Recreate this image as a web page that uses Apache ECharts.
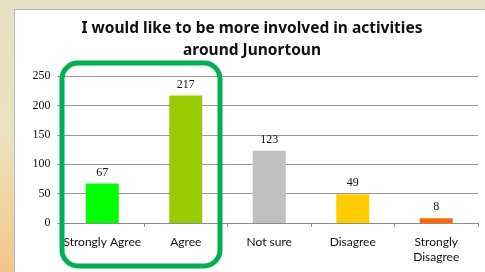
<!DOCTYPE html>
<html>
<head>
<meta charset="utf-8">
<script src="https://cdn.jsdelivr.net/npm/echarts@6/dist/echarts.min.js"></script>
<style>
  html, body { margin: 0; padding: 0; }
  body {
    width: 485px; height: 272px; overflow: hidden; position: relative;
    background: linear-gradient(to bottom, #e6e0c4 0%, #ebe2bf 50%, #f1cf98 85%, #f3c48a 100%);
  }
  #panel {
    position: absolute; left: 14px; top: 9px; width: 480px; height: 270px;
    background: #fff; border: 1px solid #b8b8b8;
  }
  #chart { position: absolute; left: 0; top: 0; width: 485px; height: 272px; }
</style>
</head>
<body>
<div id="panel"></div>
<div id="chart"></div>
<script>
var titleLines = ['I would like to be more involved in activities', 'around Junortoun'];
var categories = ['Strongly Agree', 'Agree', 'Not sure', 'Disagree', 'Strongly\nDisagree'];
var responses = [67, 217, 123, 49, 8];
var barColors = ['#00ff00', '#99cc00', '#bfbfbf', '#ffcc00', '#ff6600'];

var chart = echarts.init(document.getElementById('chart'));

var option = {
  animation: false,
  graphic: [
    {
      type: 'text', x: 252, y: 29, z: 10,
      style: { text: titleLines[0], textAlign: 'center', textVerticalAlign: 'middle',
        font: 'bold 15.5px "Noto Sans"', fill: '#111' }
    },
    {
      type: 'text', x: 252, y: 51, z: 10,
      style: { text: titleLines[1], textAlign: 'center', textVerticalAlign: 'middle',
        font: 'bold 15.5px "Noto Sans"', fill: '#111' }
    },
    {
      // green highlight box round the two "agree" bars
      type: 'rect', z: 100,
      shape: { x: 62, y: 63, width: 158, height: 203, r: 16 },
      style: { fill: 'none', stroke: '#00b050', lineWidth: 5 }
    }
  ],
  grid: { left: 60.5, right: 7, top: 76, bottom: 49 },
  xAxis: {
    type: 'category',
    data: categories,
    axisLine: { lineStyle: { color: '#8c8c8c' } },
    axisTick: { show: true, length: 4, lineStyle: { color: '#8c8c8c' } },
    axisLabel: { margin: 12, color: '#111', fontFamily: 'Lato', fontSize: 12, lineHeight: 15, interval: 0 }
  },
  yAxis: {
    type: 'value',
    min: 0, max: 250, interval: 50,
    axisLine: { show: true, lineStyle: { color: '#8c8c8c' } },
    axisTick: { show: true, length: 3, lineStyle: { color: '#8c8c8c' } },
    axisLabel: { margin: 10, color: '#111', fontFamily: 'Liberation Serif', fontSize: 12 },
    splitLine: { lineStyle: { color: '#999', width: 1 } }
  },
  series: [{
    type: 'bar',
    barWidth: 33,
    data: responses.map(function (v, i) {
      return { value: v, itemStyle: { color: barColors[i] } };
    }),
    label: {
      show: true, position: 'top', distance: 5,
      color: '#111', fontFamily: 'Liberation Serif', fontSize: 12
    }
  }]
};

chart.setOption(option);
</script>
</body>
</html>
